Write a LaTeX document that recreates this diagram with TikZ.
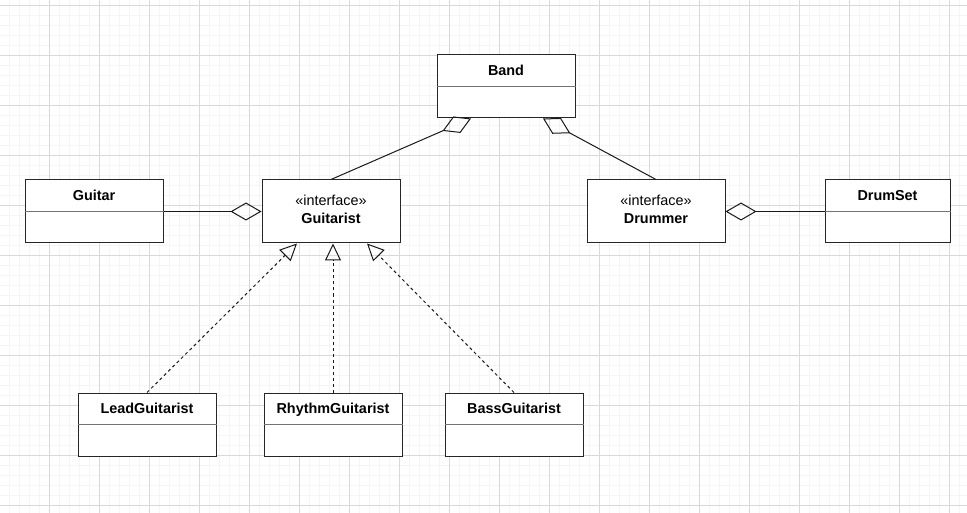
\documentclass[tikz,border=0pt]{standalone}
\usepackage{fontspec}
\setmainfont{Liberation Sans}
\usetikzlibrary{arrows.meta}

\newcommand{\umlfont}{\fontsize{14.4}{17.5}\selectfont}

\tikzset{
  minorline/.style={draw=black!4, line width=0.5pt},
  majorline/.style={draw=black!15, line width=0.8pt},
  classbox/.style={draw=black!85, fill=white, line width=1pt, minimum height=63pt, inner sep=0pt},
  classname/.style={font=\umlfont\bfseries},
  stereo/.style={font=\umlfont},
  divline/.style={draw=black!55, line width=0.8pt},
  aggreg/.style={draw=black!90, line width=1pt, {Diamond[open,length=31pt,width=18pt]}-},
  realize/.style={draw=black!90, line width=1pt, dash pattern=on 3pt off 3pt, -{Triangle[open,length=17pt,width=16pt]}},
}

\begin{document}
\begin{tikzpicture}[x=1pt, y=-1pt]
        \useasboundingbox (0,0) rectangle (967,513);
        \fill[white] (0,0) rectangle (967,513);

        % Background grid
        \foreach \gx in {9,19,...,959} {
            \draw[minorline] (\gx,0) -- (\gx,513);
        }
        \foreach \gy in {5,15,...,505} {
            \draw[minorline] (0,\gy) -- (967,\gy);
        }
        \foreach \gx in {49,99,...,949} {
            \draw[majorline] (\gx,0) -- (\gx,513);
        }
        \foreach \gy in {5,55,...,505} {
            \draw[majorline] (0,\gy) -- (967,\gy);
        }

        % Classes with a name and an empty body
        \foreach \name/\cx/\cy/\w/\label in {band/506/86.5/138/Band, guitar/94/211.5/138/Guitar, drumset/887.5/211.5/125/DrumSet, leadg/147/424.5/138/LeadGuitarist, rhythmg/333/424.5/138/RhythmGuitarist, bassg/514/424.5/138/BassGuitarist} {
            \node[classbox, minimum width=\w pt] (\name) at (\cx,\cy) {};
            \node[classname, anchor=base] (\name-title) at ([yshift=-21pt]\name.north) {\label};
            \draw[divline] ([yshift=-32pt]\name.north west) -- ([yshift=-32pt]\name.north east);
        }

        % Interfaces
        \foreach \name/\cx/\label in {guitarist/331/Guitarist, drummer/656/Drummer} {
            \node[classbox, minimum width=138pt] (\name) at (\cx,211.5) {};
            \node[stereo, anchor=base] (\name-st) at ([yshift=-26pt]\name.north) {«interface»};
            \node[classname, anchor=base] (\name-title) at ([yshift=-44pt]\name.north) {\label};
        }

        % Aggregations
        \draw[aggreg] ([xshift=-35pt]band.south) -- (guitarist.north);
        \draw[aggreg] ([xshift=37pt]band.south) -- (drummer.north);
        \draw[aggreg] (guitarist.west) -- (guitar.east);
        \draw[aggreg] (drummer.east) -- (drumset.west);

        % Realizations of Guitarist
        \draw[realize] (leadg.north) -- ([xshift=-34pt]guitarist.south);
        \draw[realize] (rhythmg.north) -- (rhythmg.north |- guitarist.south);
        \draw[realize] (bassg.north) -- ([xshift=36pt]guitarist.south);
\end{tikzpicture}
\end{document}
